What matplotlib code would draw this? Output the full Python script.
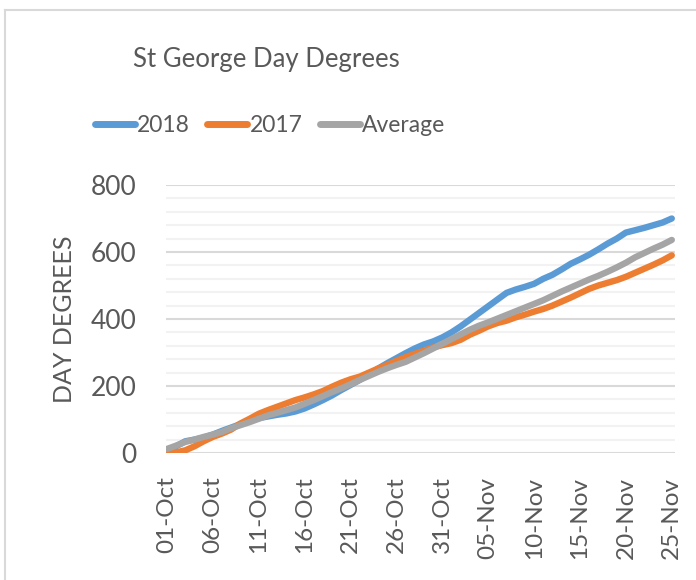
import matplotlib
matplotlib.use("Agg")
import matplotlib.pyplot as plt
from matplotlib.lines import Line2D
import numpy as np
import datetime as dt

plt.rcParams['font.family'] = ['Lato', 'DejaVu Sans']

# ---- data ----
start_date = dt.date(2018, 10, 1)
n_days = 56
dates = [start_date + dt.timedelta(days=i) for i in range(n_days)]
tick_every = 5

series_names = ["2018", "2017", "Average"]

dd_2018 = [8, 20, 35, 40, 46, 55, 66, 76, 86, 96,
           104, 109, 114, 118, 124, 133, 145, 158, 172, 188,
           203, 218, 235, 252, 268, 283, 298, 312, 324, 333,
           345, 360, 378, 398, 418, 438, 458, 478, 488, 496,
           505, 520, 532, 548, 565, 578, 592, 608, 625, 640,
           658, 665, 672, 680, 688, 700]

dd_2017 = [0, 2, 8, 20, 35, 48, 58, 70, 88, 102,
           117, 128, 138, 148, 158, 166, 175, 185, 198, 210,
           220, 228, 240, 252, 263, 275, 286, 296, 305, 315,
           322, 328, 338, 353, 365, 378, 388, 395, 405, 413,
           422, 430, 440, 452, 464, 477, 490, 500, 508, 516,
           526, 538, 550, 562, 575, 590]

dd_avg = [12, 22, 33, 40, 48, 55, 63, 74, 83, 92,
          102, 112, 120, 128, 136, 147, 158, 170, 182, 193,
          205, 218, 230, 242, 253, 263, 272, 285, 298, 312,
          326, 340, 354, 368, 380, 390, 401, 412, 423, 434,
          445, 456, 469, 482, 494, 506, 518, 529, 541, 554,
          568, 584, 597, 610, 622, 636]

colors = ["#5B9BD5", "#ED7D31", "#A5A5A5"]
text_col = "#595959"

fig = plt.figure(figsize=(6.96, 5.8), dpi=100)
ax = fig.add_axes([166/696, 1-453/580, (675-166)/696, (453-185)/580])

x = np.arange(n_days)
for vals, c, name in zip([dd_2018, dd_2017, dd_avg], colors, series_names):
    ax.plot(x, vals, color=c, lw=4.6, solid_capstyle='round', label=name, zorder=3)

ax.set_ylim(0, 800)
ax.set_xlim(-0.1, 55.35)
ax.set_yticks(np.arange(0, 801, 200))
ax.set_yticks(np.arange(0, 801, 40), minor=True)
ax.grid(True, which='major', axis='y', color='#D9D9D9', lw=1.5, zorder=1)
ax.grid(True, which='minor', axis='y', color='#F2F2F2', lw=1.5, zorder=1)
ax.tick_params(axis='y', which='both', length=0, labelsize=19, labelcolor=text_col, pad=21)

tick_pos = x[::tick_every]
ax.set_xticks(tick_pos)
ax.set_xticklabels([d.strftime("%d-%b") for d in dates[::tick_every]], rotation=90,
                   fontsize=17.5, color=text_col)
ax.tick_params(axis='x', length=0, pad=17)
for s in ax.spines.values():
    s.set_visible(False)

ax.set_ylabel("DAY DEGREES", fontsize=18, color=text_col, labelpad=11)

fig.text(266/696, 1-59/580, "St George Day Degrees", ha='center', va='center',
         fontsize=18.5, color=text_col)

leg = fig.legend(loc='center', bbox_to_anchor=(270/696, 1-126/580), ncol=3, frameon=False,
                 fontsize=16.5, handlelength=1.75, handletextpad=0.1, columnspacing=0.75)
for t in leg.get_texts():
    t.set_color(text_col)
for h in leg.get_lines():
    h.set_linewidth(5)

# chart border
fig.add_artist(Line2D([5/696, 1], [1-10/580, 1-10/580], color='#D9D9D9', lw=1.5, transform=fig.transFigure))
fig.add_artist(Line2D([5/696, 5/696], [0, 1-10/580], color='#D9D9D9', lw=1.5, transform=fig.transFigure))

fig.savefig("out.png", dpi=100)
